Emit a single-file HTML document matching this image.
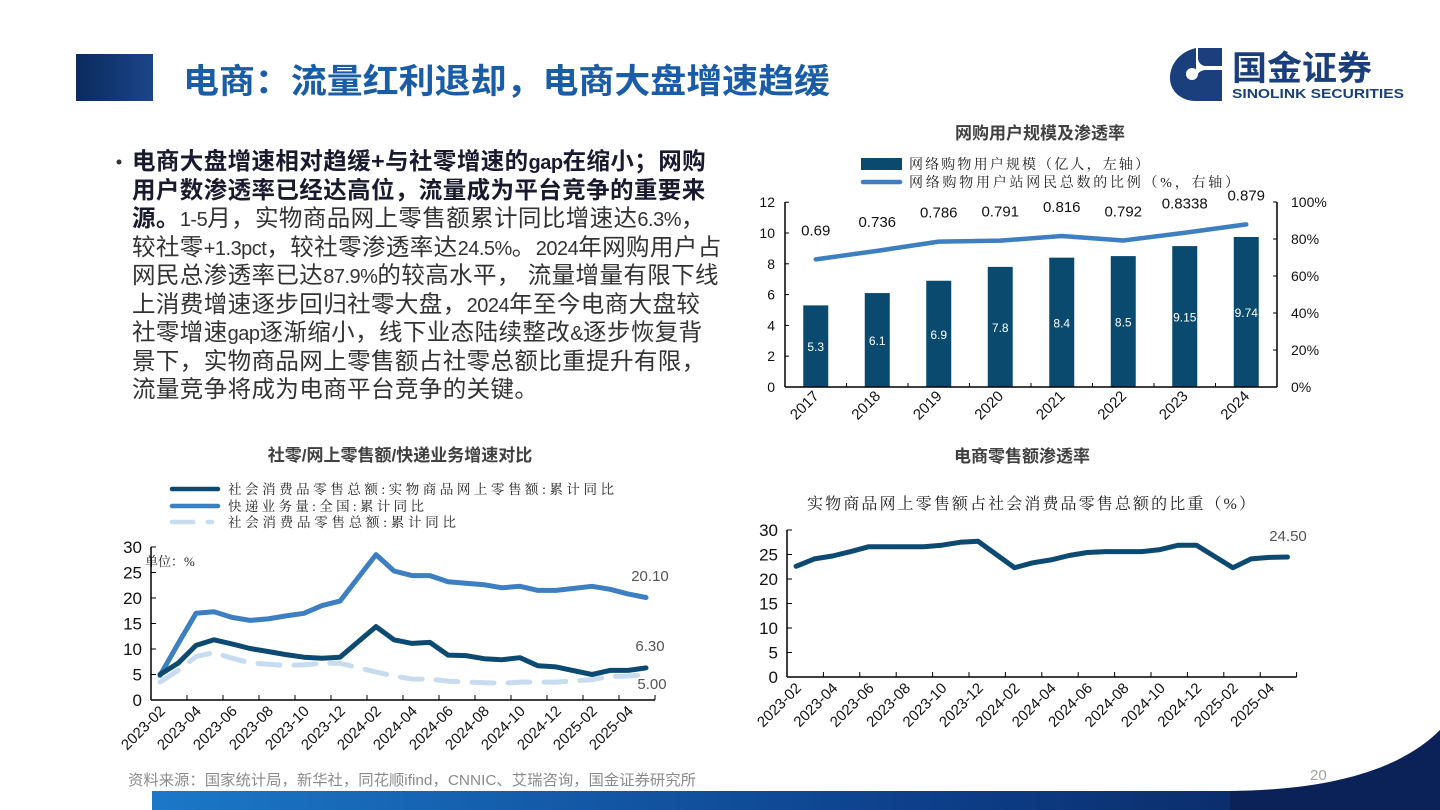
<!DOCTYPE html>
<html><head><meta charset="utf-8"><style>
html,body{margin:0;padding:0;background:#fff;}
body{width:1440px;height:810px;position:relative;overflow:hidden;font-family:"Liberation Sans","Noto Sans CJK SC",sans-serif;}
.txt{position:absolute;left:132px;top:147px;font-size:23.5px;color:#333;letter-spacing:0.4px;white-space:nowrap;}
.txt div{height:28.5px;line-height:28.5px;overflow:visible;}
.txt b{color:#1a1a2e;}
.n{font-family:"Liberation Sans Narrow","Liberation Sans",sans-serif;font-size:20px;letter-spacing:-0.5px;}
</style></head><body>
<svg width="1440" height="810" style="position:absolute;left:0;top:0" font-family="'Liberation Sans','Noto Sans CJK SC',sans-serif">
<defs>
<linearGradient id="hb" x1="0" x2="1"><stop offset="0" stop-color="#0b2a5e"/><stop offset="1" stop-color="#1a4688"/></linearGradient>
<linearGradient id="fb" x1="0" x2="1"><stop offset="0" stop-color="#1b78c8"/><stop offset="0.6" stop-color="#0d3f8a"/><stop offset="1" stop-color="#0a2258"/></linearGradient>
</defs>
<rect x="76" y="54" width="77" height="47" fill="url(#hb)"/>
<text x="183" y="93" font-size="34" font-weight="bold" fill="#1a5ca6" textLength="647" lengthAdjust="spacingAndGlyphs">电商：流量红利退却，电商大盘增速趋缓</text>
<path d="M1196 48 C1178 52 1170 66 1170 78 C1170 92 1182 101 1196 101 L1222 101 L1222 70 L1206 70 C1200 70 1196 74 1196 80 Z" fill="#1a3f7c"/>
<path d="M1198 48 L1222 48 L1222 66 L1206 66 C1201 66 1198 62 1198 58 Z" fill="#1a3f7c"/>
<circle cx="1192" cy="74" r="6" fill="#fff"/>
<text x="1232" y="80" font-size="34" font-weight="bold" fill="#1a3f7c" textLength="140" lengthAdjust="spacingAndGlyphs">国金证券</text>
<text x="1232" y="98" font-size="13" font-weight="bold" fill="#1a3f7c" textLength="172" lengthAdjust="spacingAndGlyphs">SINOLINK SECURITIES</text>
<circle cx="119" cy="162" r="2.5" fill="#333"/>

<rect x="152" y="791" width="1288" height="19" fill="url(#fb)"/>
<path d="M1230 791 C1330 790 1400 770 1440 730 L1440 810 L1230 810 Z" fill="#0a2258"/>
<text x="128" y="785" font-size="15" fill="#8a8a8a" textLength="568" lengthAdjust="spacingAndGlyphs">资料来源：国家统计局，新华社，同花顺ifind，CNNIC、艾瑞咨询，国金证券研究所</text>
<text x="1310" y="780" font-size="15" fill="#a0a0a0">20</text>

<text x="400" y="461" font-size="17" font-weight="bold" fill="#404040" text-anchor="middle">社零/网上零售额/快递业务增速对比</text>
<g font-family="'Liberation Serif','Noto Serif CJK SC',serif" font-size="13.5" fill="#222">
<line x1="172" y1="489" x2="218" y2="489" stroke="#0d4a72" stroke-width="4.5" stroke-linecap="round"/>
<text x="228" y="494" textLength="386" lengthAdjust="spacing">社会消费品零售总额:实物商品网上零售额:累计同比</text>
<line x1="172" y1="506" x2="218" y2="506" stroke="#3d7fc1" stroke-width="4.5" stroke-linecap="round"/>
<text x="228" y="511" textLength="196" lengthAdjust="spacing">快递业务量:全国:累计同比</text>
<line x1="172" y1="522" x2="193" y2="522" stroke="#c8dcf0" stroke-width="4.5" stroke-linecap="round"/>
<line x1="208" y1="522" x2="212" y2="522" stroke="#c8dcf0" stroke-width="4.5" stroke-linecap="round"/>
<text x="228" y="527" textLength="228" lengthAdjust="spacing">社会消费品零售总额:累计同比</text>
<text x="145" y="566" font-size="13">单位：%</text>
</g>
<g id="lc"></g>

<text x="1040" y="139" font-size="17" font-weight="bold" fill="#404040" text-anchor="middle">网购用户规模及渗透率</text>
<g font-family="'Liberation Serif','Noto Serif CJK SC',serif" font-size="14" fill="#222">
<rect x="861" y="158" width="41" height="12" fill="#0a4a6e"/>
<text x="909" y="169" textLength="240" lengthAdjust="spacing">网络购物用户规模（亿人，左轴）</text>
<line x1="863" y1="182" x2="900" y2="182" stroke="#3d7fc1" stroke-width="4.5" stroke-linecap="round"/>
<text x="909" y="187" textLength="330" lengthAdjust="spacing">网络购物用户站网民总数的比例（%，右轴）</text>
</g>
<g id="tr"></g>

<text x="1022" y="462" font-size="17" font-weight="bold" fill="#404040" text-anchor="middle">电商零售额渗透率</text>
<text x="807" y="509" font-size="16" fill="#222" textLength="448" lengthAdjust="spacing" font-family="'Liberation Serif','Noto Serif CJK SC',serif">实物商品网上零售额占社会消费品零售总额的比重（%）</text>
<g id="br"></g>
</svg>

<div class="txt">
<div><b>电商大盘增速相对趋缓+与社零增速的<span class="n">gap</span>在缩小；网购</b></div>
<div><b>用户数渗透率已经达高位，流量成为平台竞争的重要来</b></div>
<div><b>源。</b><span class="n">1-5</span>月，实物商品网上零售额累计同比增速达<span class="n">6.3%</span>，</div>
<div>较社零<span class="n">+1.3pct</span>，较社零渗透率达<span class="n">24.5%</span>。<span class="n">2024</span>年网购用户占</div>
<div>网民总渗透率已达<span class="n">87.9%</span>的较高水平， 流量增量有限下线</div>
<div>上消费增速逐步回归社零大盘，<span class="n">2024</span>年至今电商大盘较</div>
<div>社零增速<span class="n">gap</span>逐渐缩小，线下业态陆续整改<span class="n">&amp;</span>逐步恢复背</div>
<div>景下，实物商品网上零售额占社零总额比重提升有限，</div>
<div>流量竞争将成为电商平台竞争的关键。</div>
</div>

<script>
var NS="http://www.w3.org/2000/svg";
function el(p,t,a,txt){var e=document.createElementNS(NS,t);for(var k in a)e.setAttribute(k,a[k]);if(txt!==undefined)e.textContent=txt;p.appendChild(e);return e;}
var months=[];for(var i=0;i<28;i++){var y=2023+Math.floor((i+1)/12),m=((i+1)%12)+1;months.push(y+"-"+(m<10?"0":"")+m);}
var idx=[];for(var i=0;i<28;i++){if(i!=11&&i!=23)idx.push(i);}
function timeChart(g,x0,cw,y0,sc,series){
  var W=cw*28;
  el(g,"line",{x1:x0,y1:y0,x2:x0+W,y2:y0,stroke:"#000","stroke-width":1.5});
  el(g,"line",{x1:x0,y1:y0,x2:x0,y2:y0-30*sc,stroke:"#000","stroke-width":1.5});
  for(var v=0;v<=30;v+=5){var yy=y0-v*sc;el(g,"line",{x1:x0,y1:yy,x2:x0+5,y2:yy,stroke:"#000","stroke-width":1});
    el(g,"text",{x:x0-9,y:yy+6,"font-size":17,"text-anchor":"end",fill:"#111"},""+v);}
  for(var i=0;i<=28;i+=2){var xx=x0+i*cw;el(g,"line",{x1:xx,y1:y0,x2:xx,y2:y0-5,stroke:"#000","stroke-width":1});}
  for(var i=0;i<28;i+=2){var xx=x0+(i+0.5)*cw+6;el(g,"text",{x:xx,y:y0+12,"font-size":15,"text-anchor":"end",fill:"#111",transform:"rotate(-45 "+xx+" "+(y0+12)+")"},months[i]);}
  series.forEach(function(s){var d="";for(var j=0;j<s.v.length;j++){var xx=x0+(idx[j]+0.5)*cw,yy=y0-s.v[j]*sc;d+=(j?"L":"M")+xx.toFixed(1)+" "+yy.toFixed(1);}
    var a={d:d,fill:"none",stroke:s.c,"stroke-width":5,"stroke-linejoin":"round","stroke-linecap":"round"};if(s.dash)a["stroke-dasharray"]=s.dash;el(g,"path",a);});
}
timeChart(document.getElementById("lc"),151,18,700,5.1,[
 {c:"#c8dcf0",dash:"22 14",v:[3.5,5.8,8.5,9.3,8.2,7.3,7.0,6.8,6.9,7.2,7.2,5.5,4.7,4.1,4.1,3.7,3.5,3.4,3.3,3.5,3.5,3.5,4.0,4.6,4.7,5.0]},
 {c:"#3d7fc1",v:[4.8,11,17,17.3,16.2,15.6,15.9,16.5,17,18.5,19.4,28.5,25.3,24.4,24.4,23.2,22.9,22.6,22.0,22.3,21.5,21.5,22.3,21.7,20.8,20.1]},
 {c:"#0d4a72",v:[5.0,7.2,10.7,11.8,11.0,10.1,9.5,8.9,8.4,8.2,8.4,14.4,11.8,11.1,11.3,8.8,8.7,8.1,7.9,8.3,6.7,6.5,5.0,5.8,5.8,6.3]}
]);
var g=document.getElementById("lc");
el(g,"text",{x:650,y:581,"font-size":15,fill:"#555","text-anchor":"middle"},"20.10");
el(g,"text",{x:650,y:651,"font-size":15,fill:"#555","text-anchor":"middle"},"6.30");
el(g,"text",{x:652,y:689,"font-size":15,fill:"#555","text-anchor":"middle"},"5.00");
timeChart(document.getElementById("br"),787,18.2,677,4.9,[
 {c:"#0d4a72",v:[22.6,24.1,24.7,25.6,26.6,26.6,26.6,26.6,26.9,27.5,27.7,22.3,23.3,23.9,24.8,25.4,25.6,25.6,25.6,26.0,26.9,26.9,22.3,24.1,24.4,24.5]}
]);
el(document.getElementById("br"),"text",{x:1288,y:541,"font-size":15,fill:"#555","text-anchor":"middle"},"24.50");
(function(){var g=document.getElementById("tr");var x0=785,x1=1277,y0=387,sc=15.4,cw=61.5;
 var yrs=[2017,2018,2019,2020,2021,2022,2023,2024],b=[5.3,6.1,6.9,7.8,8.4,8.5,9.15,9.74],p=[0.69,0.736,0.786,0.791,0.816,0.792,0.8338,0.879];
 for(var i=0;i<8;i++){var cx=x0+(i+0.5)*cw,h=b[i]*sc;el(g,"rect",{x:cx-12.5,y:y0-h,width:25,height:h,fill:"#0a4a6e"});
  el(g,"text",{x:cx,y:y0-h/2+5,"font-size":12,fill:"#fff","text-anchor":"middle"},""+b[i]);
  var tx=cx+4,ty=y0+10;el(g,"text",{x:tx,y:ty,"font-size":15,"text-anchor":"end",fill:"#111",transform:"rotate(-45 "+tx+" "+ty+")"},""+yrs[i]);
  el(g,"text",{x:cx,y:y0-p[i]*185-24,"font-size":15,"text-anchor":"middle",fill:"#111"},""+p[i]);}
 var d="";for(var i=0;i<8;i++){d+=(i?"L":"M")+(x0+(i+0.5)*cw)+" "+(y0-p[i]*185);}
 el(g,"path",{d:d,fill:"none",stroke:"#3d7fc1","stroke-width":4.5,"stroke-linecap":"round","stroke-linejoin":"round"});
 el(g,"line",{x1:x0,y1:y0,x2:x1,y2:y0,stroke:"#000","stroke-width":1.5});
 el(g,"line",{x1:x0,y1:y0,x2:x0,y2:202,stroke:"#000","stroke-width":1.5});
 el(g,"line",{x1:x1,y1:y0,x2:x1,y2:202,stroke:"#000","stroke-width":1.5});
 for(var v=0;v<=12;v+=2){var yy=y0-v*sc;el(g,"line",{x1:x0,y1:yy,x2:x0+4,y2:yy,stroke:"#000"});el(g,"text",{x:x0-10,y:yy+5,"font-size":14,"text-anchor":"end",fill:"#111"},""+v);}
 for(var v=0;v<=100;v+=20){var yy=y0-v*1.85;el(g,"line",{x1:x1-4,y1:yy,x2:x1,y2:yy,stroke:"#000"});el(g,"text",{x:x1+14,y:yy+5,"font-size":14,fill:"#111"},v+"%");}
 for(var i=1;i<8;i++){var xx=x0+i*cw;el(g,"line",{x1:xx,y1:y0,x2:xx,y2:y0-4,stroke:"#000"});}
})();
</script>
</body></html>
